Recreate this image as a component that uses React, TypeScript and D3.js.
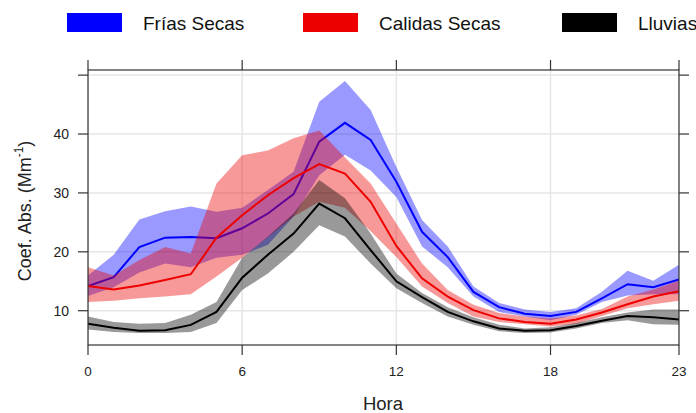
import React from "react";
import * as d3 from "d3";

// Hourly absorption coefficient by season: mean and confidence band
const hours = [0, 1, 2, 3, 4, 5, 6, 7, 8, 9, 10, 11, 12, 13, 14, 15, 16, 17, 18, 19, 20, 21, 22, 23];

const friasMean = [14.2, 15.7, 20.8, 22.4, 22.5, 22.3, 24.0, 26.5, 29.8, 38.7, 41.9, 39.0, 31.9, 23.4, 19.1, 13.2, 10.6, 9.5, 9.1, 9.8, 12.1, 14.5, 14.0, 15.3];
const friasLow = [12.5, 14.0, 16.5, 18.0, 17.4, 19.0, 19.5, 21.2, 26.0, 33.0, 36.5, 33.8, 29.3, 20.9, 17.4, 12.4, 9.8, 9.0, 8.4, 9.3, 11.5, 12.6, 12.8, 12.8];
const friasHigh = [16.0, 19.5, 25.5, 26.9, 27.7, 26.8, 27.5, 30.5, 33.6, 45.5, 49.0, 44.1, 34.4, 25.4, 20.9, 14.1, 11.3, 10.2, 9.8, 10.4, 13.2, 16.8, 15.1, 17.8];

const calidasMean = [14.2, 13.6, 14.3, 15.2, 16.2, 22.4, 26.2, 29.6, 32.5, 34.9, 33.3, 28.5, 21.0, 15.5, 12.4, 10.1, 8.7, 8.1, 7.8, 8.5, 9.7, 11.1, 12.4, 13.3];
const calidasLow = [11.5, 11.7, 12.1, 12.4, 12.8, 15.8, 19.0, 22.5, 26.0, 28.5, 27.5, 23.5, 19.1, 14.1, 11.3, 9.0, 8.1, 7.7, 7.3, 7.8, 9.1, 10.4, 11.1, 11.7];
const calidasHigh = [17.4, 16.0, 18.6, 20.8, 19.7, 31.6, 36.4, 37.2, 39.3, 40.6, 36.0, 31.6, 24.8, 18.0, 13.5, 11.0, 9.6, 9.0, 8.7, 9.2, 10.3, 12.4, 13.6, 15.1];

const lluviasMean = [7.8, 7.1, 6.6, 6.7, 7.6, 9.8, 15.6, 19.5, 23.1, 28.2, 25.7, 20.3, 15.0, 12.3, 9.8, 8.2, 7.0, 6.6, 6.7, 7.4, 8.3, 9.1, 8.9, 8.5];
const lluviasLow = [6.8, 6.4, 6.2, 6.2, 6.4, 7.9, 13.5, 16.3, 20.0, 24.5, 22.6, 18.0, 13.8, 11.3, 9.0, 7.6, 6.5, 6.2, 6.3, 7.0, 7.9, 8.4, 7.7, 7.6];
const lluviasHigh = [9.0, 8.1, 7.8, 7.9, 9.3, 11.5, 19.0, 22.6, 26.5, 32.2, 29.1, 23.1, 16.3, 13.0, 10.6, 8.9, 7.6, 7.0, 7.2, 7.9, 8.9, 9.7, 10.2, 10.2];

const seriesNames = ["Frías Secas", "Calidas Secas", "Lluvias"];
const seriesColors = ["#0000ff", "#ee0000", "#000000"];

const xTicks = [0, 6, 12, 18, 23];
const yTicks = [10, 20, 30, 40, 50];
const yLabels = [10, 20, 30, 40];

const W = 696;
const H = 413;
const left = 88;
const right = 679;
const top = 70;
const bottom = 345;
const FONT = "'Liberation Sans', Arial, sans-serif";
const AXIS = "#333333";

export default function App() {
  const x = d3.scaleLinear().domain([0, 23]).range([left, right]);
  const y = d3.scaleLinear().domain([4.18, 50.87]).range([bottom, top]);

  const series = [
    { mean: friasMean, low: friasLow, high: friasHigh },
    { mean: calidasMean, low: calidasLow, high: calidasHigh },
    { mean: lluviasMean, low: lluviasLow, high: lluviasHigh },
  ];

  const area = (low: number[], high: number[]) =>
    d3
      .area<number>()
      .x((h) => x(h))
      .y0((_, i) => y(low[i]))
      .y1((_, i) => y(high[i]))(hours) || "";

  const line = (vals: number[]) =>
    d3
      .line<number>()
      .x((h) => x(h))
      .y((_, i) => y(vals[i]))(hours) || "";

  const legendX = [67, 303, 562];

  return (
    <svg width={W} height={H} style={{ display: "block", position: "absolute", left: 0, top: 0 }}>
      <rect width={W} height={H} fill="#ffffff" />
      <defs>
        <clipPath id="plotClip">
          <rect x={left} y={top} width={right - left} height={bottom - top} />
        </clipPath>
      </defs>

      {/* legend */}
      {seriesNames.map((name, i) => (
        <g key={name}>
          <rect x={legendX[i]} y={13} width={55} height={19} fill={seriesColors[i]} />
          <text
            x={legendX[i] + 76}
            y={30}
            fontFamily={FONT}
            fontSize={19}
            fill="#111"
          >
            {name}
          </text>
        </g>
      ))}

      {/* grid */}
      <g clipPath="url(#plotClip)">
        {yTicks.map((t) => (
          <line key={"gy" + t} x1={left} x2={right} y1={y(t)} y2={y(t)} stroke="#e6e6e6" strokeWidth={1.5} />
        ))}
        {xTicks.map((t) => (
          <line key={"gx" + t} x1={x(t)} x2={x(t)} y1={top} y2={bottom} stroke="#e6e6e6" strokeWidth={1.5} />
        ))}
      </g>

      {/* bands and mean lines */}
      <g clipPath="url(#plotClip)">
        {series.map((s, i) => (
          <g key={i}>
            <path d={area(s.low, s.high)} fill={seriesColors[i]} fillOpacity={0.4} stroke="none" />
            <path d={line(s.mean)} fill="none" stroke={seriesColors[i]} strokeWidth={2} />
          </g>
        ))}
      </g>

      {/* frame */}
      <rect x={left} y={top} width={right - left} height={bottom - top} fill="none" stroke={AXIS} strokeWidth={1.2} />

      {/* ticks */}
      {xTicks.map((t) => (
        <g key={"tx" + t}>
          <line x1={x(t)} x2={x(t)} y1={bottom} y2={bottom + 10} stroke={AXIS} strokeWidth={1.2} />
          <line x1={x(t)} x2={x(t)} y1={top} y2={top - 10} stroke={AXIS} strokeWidth={1.2} />
          <text
            x={x(t)}
            y={376}
            textAnchor="middle"
            fontFamily={FONT}
            fontSize={13.5}
            fill="#222"
          >
            {t}
          </text>
        </g>
      ))}
      {yTicks.map((t) => (
        <g key={"ty" + t}>
          <line x1={left - 10} x2={left} y1={y(t)} y2={y(t)} stroke={AXIS} strokeWidth={1.2} />
          <line x1={right} x2={right + 10} y1={y(t)} y2={y(t)} stroke={AXIS} strokeWidth={1.2} />
        </g>
      ))}
      {yLabels.map((t) => (
        <text
          key={"ly" + t}
          x={69}
          y={y(t) + 5}
          textAnchor="end"
          fontFamily={FONT}
          fontSize={14}
          fill="#222"
        >
          {t}
        </text>
      ))}

      {/* axis titles */}
      <text x={383} y={410} textAnchor="middle" fontFamily={FONT} fontSize={18.5} fill="#222">
        Hora
      </text>
      <text
        transform="translate(31,211) rotate(-90)"
        textAnchor="middle"
        fontFamily={FONT}
        fontSize={18}
        fill="#222"
      >
        Coef. Abs. (Mm
        <tspan fontSize={12} dy={-8}>
          -1
        </tspan>
        <tspan dy={8}>)</tspan>
      </text>
    </svg>
  );
}
